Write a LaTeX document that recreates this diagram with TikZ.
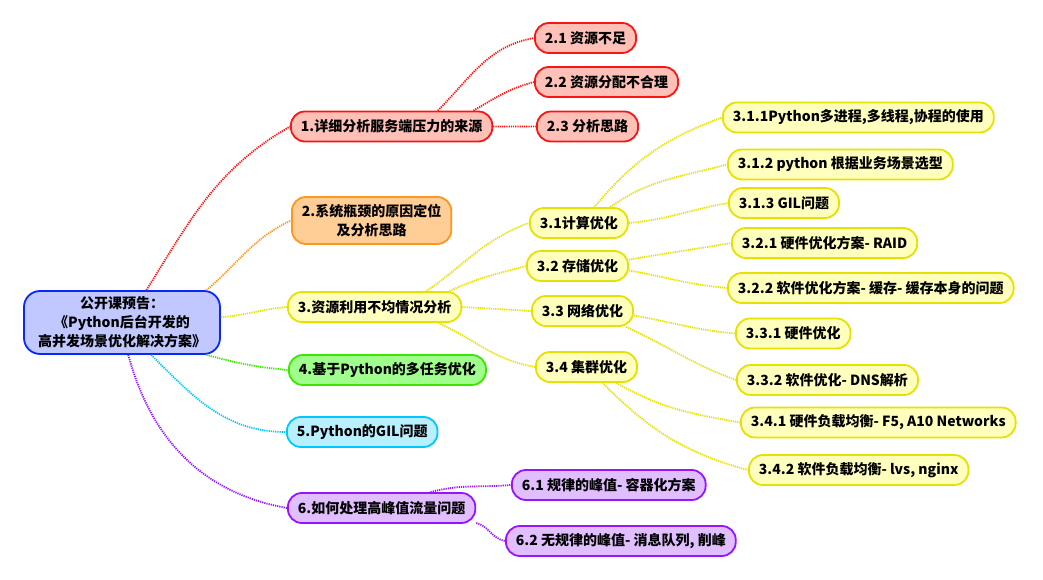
\documentclass[tikz,border=0pt]{standalone}
\usepackage{fontspec}
\setmainfont{Noto Sans CJK SC}
\usepackage{color}

\definecolor{rootline}{RGB}{10,40,250}
\definecolor{rootfill}{RGB}{192,200,255}
\definecolor{redline}{RGB}{250,20,20}
\definecolor{redfill}{RGB}{255,192,184}
\definecolor{orangeline}{RGB}{255,150,30}
\definecolor{orangefill}{RGB}{255,205,150}
\definecolor{yellowline}{RGB}{230,225,0}
\definecolor{yellowfill}{RGB}{255,255,190}
\definecolor{greenline}{RGB}{60,230,0}
\definecolor{greenfill}{RGB}{160,255,140}
\definecolor{cyanline}{RGB}{0,200,255}
\definecolor{cyanfill}{RGB}{185,240,255}
\definecolor{purpleline}{RGB}{150,20,255}
\definecolor{purplefill}{RGB}{225,190,255}

\begin{document}
\begin{tikzpicture}[x=1pt,y=1pt,
    box/.style={rounded corners=14pt,line width=1.8pt,minimum height=30pt,inner xsep=10pt,inner ysep=2pt,
        anchor=west,align=center,font=\bfseries\fontsize{14}{19}\selectfont},
    link/.style={line width=1.8pt,dash pattern=on 1.2pt off 1pt},
    root box/.style={box,anchor=center,rounded corners=16pt,minimum width=196pt,minimum height=63pt,draw=rootline,fill=rootfill},
    red box/.style={box,draw=redline,fill=redfill},
    orange box/.style={box,draw=orangeline,fill=orangefill},
    yellow box/.style={box,draw=yellowline,fill=yellowfill},
    green box/.style={box,draw=greenline,fill=greenfill},
    cyan box/.style={box,draw=cyanline,fill=cyanfill},
    purple box/.style={box,draw=purpleline,fill=purplefill}]

\useasboundingbox (0,0) rectangle (1043,580);

\node[root box] (root) at (122,257.5) {公开课预告：\\《Python后台开发的\\高并发场景优化解决方案》};

\node[red box] (n1) at (290,453.5) {1.详细分析服务端压力的来源};
\node[red box] (n21) at (534,542) {2.1 资源不足};
\node[red box] (n22) at (534,498) {2.2 资源分配不合理};
\node[red box] (n23) at (536,453.5) {2.3 分析思路};

\node[orange box, minimum height=47pt] (n2) at (291,359.5) {2.系统瓶颈的原因定位\\及分析思路};

\node[yellow box] (n3) at (287,273) {3.资源利用不均情况分析};
\node[yellow box] (n31) at (529,357) {3.1计算优化};
\node[yellow box] (n32) at (526,314) {3.2 存储优化};
\node[yellow box] (n33) at (531,269) {3.3 网络优化};
\node[yellow box] (n34) at (535,213) {3.4 集群优化};
\node[yellow box] (n311) at (722,462.5) {3.1.1Python多进程,多线程,协程的使用};
\node[yellow box] (n312) at (727,415.5) {3.1.2 python 根据业务场景选型};
\node[yellow box] (n313) at (728,377) {3.1.3 GIL问题};
\node[yellow box] (n321) at (731,337) {3.2.1 硬件优化方案- RAID};
\node[yellow box] (n322) at (727,292) {3.2.2 软件优化方案- 缓存- 缓存本身的问题};
\node[yellow box] (n331) at (735,246.5) {3.3.1 硬件优化};
\node[yellow box] (n332) at (736,200) {3.3.2 软件优化- DNS解析};
\node[yellow box] (n341) at (740,157.5) {3.4.1 硬件负载均衡- F5, A10 Networks};
\node[yellow box] (n342) at (748,110) {3.4.2 软件负载均衡- lvs, nginx};

\node[green box] (n4) at (288,210) {4.基于Python的多任务优化};
\node[cyan box] (n5) at (286,148) {5.Python的GIL问题};

\node[purple box] (n6) at (287,72) {6.如何处理高峰值流量问题};
\node[purple box] (n61) at (511,95) {6.1 规律的峰值- 容器化方案};
\node[purple box] (n62) at (505,39) {6.2 无规律的峰值- 消息队列, 削峰};

\draw[link,redline] (root.53) to[out=58,in=210] (n1.west)
    (n1.19) to[out=45,in=190] (n21.west)
    (n1.11) to[out=30,in=195] (n22.west)
    (n1.east) to (n23.west);
\draw[link,orangeline] (root.21) to[out=40,in=205] (n2.west);
\draw[link,yellowline] (root.3) to[out=5,in=185] (n3.west)
    (n3.17) to[out=35,in=200] (n31.west)
    (n3.12) to[out=25,in=195] (n32.west)
    (n3.east) to (n33.west)
    (n3.-14) to[out=-25,in=170] (n34.west)
    (n31.46) to[out=50,in=200] (n311.west)
    (n31.27) to[out=35,in=195] (n312.west)
    (n31.east) to[out=5,in=190] (n313.west)
    (n32.7) to[out=10,in=190] (n321.west)
    (n32.-5) to[out=-10,in=175] (n322.west)
    (n33.-5) to[out=-10,in=175] (n331.west)
    (n33.-20) to[out=-25,in=160] (n332.west)
    (n34.-28) to[out=-30,in=170] (n341.west)
    (n34.-45) to[out=-45,in=165] (n342.west);
\draw[link,greenline] (root.-21) to[out=-15,in=175] (n4.west);
\draw[link,cyanline] (root.-48) to[out=-45,in=180] (n5.west);
\draw[link,purpleline] (root.-79) to[out=-75,in=170] (n6.west)
    (n6.18) to[out=15,in=185] (n61.west)
    (n6.-9) to[out=-15,in=170] (n62.west);

\end{tikzpicture}
\end{document}
